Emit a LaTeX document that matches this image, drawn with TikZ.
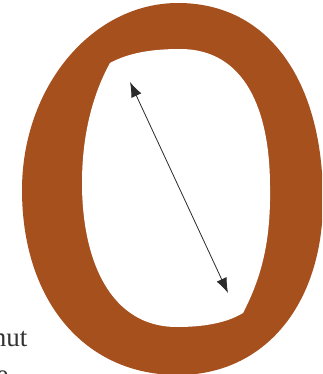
\documentclass[tikz,border=0pt]{standalone}
\usepackage{fontspec}
\setmainfont{Liberation Serif}
\usetikzlibrary{arrows.meta,positioning}
\definecolor{OB}{HTML}{A6501E}
\definecolor{PA}{HTML}{2B2B2B}
\definecolor{TX}{HTML}{333333}

\begin{document}
\begin{tikzpicture}[x=1pt,y=-1pt]
        \useasboundingbox (0,0) rectangle (322,374);
        \clip (0,0) rectangle (322,374);
        \fill[white] (0,0) rectangle (322,374);
        % the letter
        \fill[OB] (178,3) .. controls (268,3) and (323,80) .. (323,200)
          .. controls (323,304) and (265,375) .. (178,375)
          .. controls (84,375) and (22,300) .. (22,190)
          .. controls (22,87) and (92,3) .. (178,3) -- cycle;
        % the counter
        \fill[white] (110,63) .. controls (130,52) and (155,49) .. (180,49)
          .. controls (245,49) and (270,110) .. (270,187)
          .. controls (271,245) and (260,280) .. (243,313)
          .. controls (225,324) and (200,327) .. (177,327)
          .. controls (110,327) and (82,260) .. (82,183)
          .. controls (82,130) and (95,90) .. (110,63) -- cycle;
        % the width of the counter
        \coordinate (top) at (130,82);
        \coordinate (bot) at (228,293);
        \draw[PA, line width=0.8pt,
              {Latex[length=15pt,width=11pt]}-{Latex[length=15pt,width=11pt]}]
          (top) -- (bot);
        \node[anchor=base east, inner sep=0pt, text=TX,
              font=\fontsize{27}{32}\selectfont] (nut) at (27.5,346) {nut};
        \node[anchor=base east, inner sep=0pt, text=TX,
              font=\fontsize{27}{32}\selectfont] (e) at (8.5,383) {e};
      \end{tikzpicture}
\end{document}
